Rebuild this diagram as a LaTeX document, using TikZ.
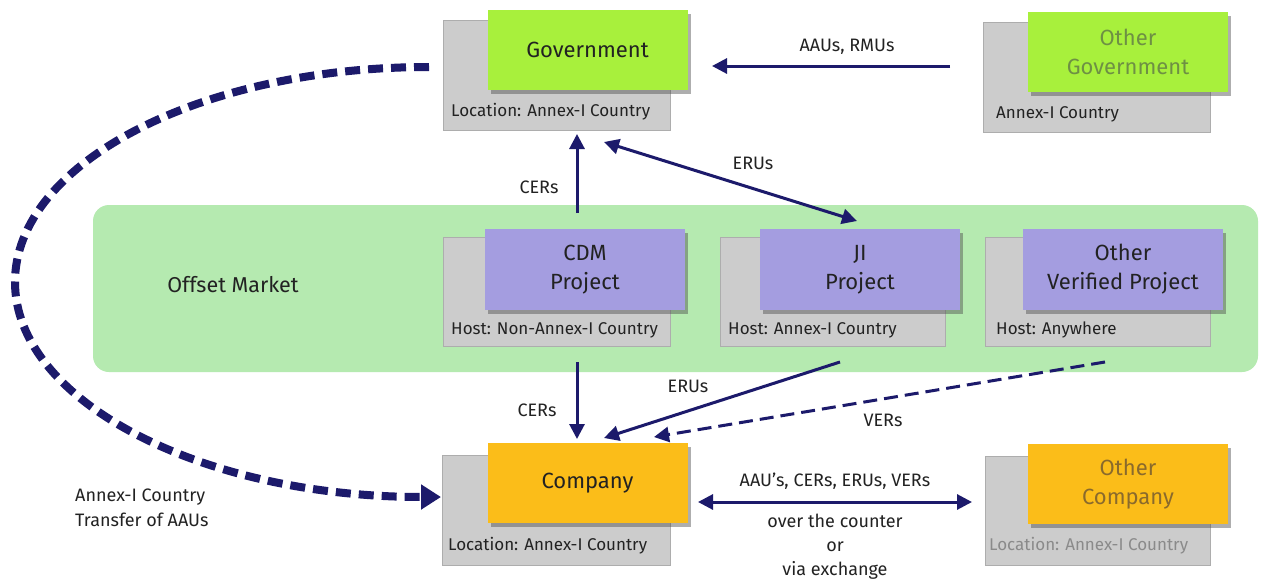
\documentclass[tikz,border=0pt]{standalone}
\usepackage{fontspec}
\setmainfont{Fira Sans}
\usetikzlibrary{arrows.meta,shadows}
\definecolor{navy}{HTML}{1C1A6B}
\definecolor{govgreen}{HTML}{A8F03C}
\definecolor{coorange}{HTML}{FBBD19}
\definecolor{projpurple}{HTML}{A49DE0}
\definecolor{boxgray}{HTML}{CCCCCC}
\definecolor{boxedge}{HTML}{ADADAD}
\definecolor{offsetbg}{HTML}{B5EAB0}
\definecolor{txt}{HTML}{222222}
\definecolor{dimgreen}{HTML}{6E9044}
\definecolor{dimbrown}{HTML}{8A6A2C}
\definecolor{dimgray}{HTML}{8A8A8A}
\begin{document}
\begin{tikzpicture}[x=1pt,y=-1pt,
  graybox/.style={draw=boxedge,fill=boxgray,line width=0.8pt,minimum width=227pt,minimum height=110pt,inner sep=0pt},
  topbox/.style={minimum width=200pt,minimum height=80pt,inner sep=0pt,align=center,text=txt,
    font=\fontsize{22}{29}\selectfont,
    drop shadow={shadow xshift=3pt,shadow yshift=-4pt,fill=black!70,opacity=0.45}},
  govbox/.style={topbox,fill=govgreen},
  cobox/.style={topbox,fill=coorange},
  projbox/.style={topbox,fill=projpurple,minimum height=81pt},
  boxlabel/.style={anchor=west,inner sep=0pt,text=txt,font=\fontsize{17}{20}\selectfont},
  elabel/.style={inner sep=0pt,text=txt,font=\fontsize{18}{21}\selectfont,align=center},
  arr/.style={draw=navy,line width=3pt,-{Triangle[length=15pt,width=15pt]}},
  darr/.style={draw=navy,line width=3pt,{Triangle[length=15pt,width=15pt]}-{Triangle[length=15pt,width=15pt]}},
  dasharr/.style={arr,dash pattern=on 14pt off 7pt},
  bigdash/.style={draw=navy,line width=8pt,dash pattern=on 15pt off 8pt,-{Triangle[length=20pt,width=24pt]}}
]
\useasboundingbox (0,0) rectangle (1264,581);
\fill[white] (0,0) rectangle (1264,581);

% offset market band
\node[fill=offsetbg,rounded corners=16pt,minimum width=1165pt,minimum height=167pt,inner sep=0pt] (offset) at (675.5,288.5) {};
\node[inner sep=0pt,text=txt,font=\fontsize{21.5}{24}\selectfont] (offsetlbl) at (233,285) {Offset Market};

% Government
\node[graybox] (govGray) at (556.5,75) {};
\node[boxlabel] (govLbl) at (451,112) {Location: Annex-I Country};
\node[govbox] (gov) at (587.5,50) {Government};

% Other Government
\node[graybox] (ogGray) at (1096.5,77) {};
\node[boxlabel] (ogLbl) at (996,114) {Annex-I Country};
\node[govbox,text=dimgreen] (og) at (1128,52) {Other\\Government};

% Projects
\node[graybox,minimum height=109pt] (cdmGray) at (556.5,291.5) {};
\node[boxlabel] (cdmLbl) at (451,330) {Host: Non-Annex-I Country};
\node[projbox] (cdm) at (585,269.5) {CDM\\Project};

\node[graybox,minimum width=225pt,minimum height=109pt] (jiGray) at (832.5,291.5) {};
\node[boxlabel] (jiLbl) at (728,330) {Host: Annex-I Country};
\node[projbox] (ji) at (860,269.5) {JI\\Project};

\node[graybox,minimum width=225pt,minimum height=109pt] (ovGray) at (1097.5,291.5) {};
\node[boxlabel] (ovLbl) at (996,330) {Host: Anywhere};
\node[projbox] (ov) at (1123,269.5) {Other\\Verified Project};

% Company
\node[graybox,minimum width=228pt] (coGray) at (556,510) {};
\node[boxlabel] (coLbl) at (448,546) {Location: Annex-I Country};
\node[cobox] (co) at (587.5,483) {Company};

% Other Company
\node[graybox,minimum width=225pt,minimum height=109pt] (ocGray) at (1097.5,510.5) {};
\node[boxlabel,text=dimgray] (ocLbl) at (989,546) {Location: Annex-I Country};
\node[cobox,text=dimbrown] (oc) at (1128,484) {Other\\Company};

% connector end points
\coordinate (a1s) at (950,66);   \coordinate (a1e) at (712,66);
\coordinate (a2s) at (577,213);  \coordinate (a2e) at (577,134);
\coordinate (a3s) at (604,142);  \coordinate (a3e) at (857,221);
\coordinate (a4s) at (577,362);  \coordinate (a4e) at (577,439);
\coordinate (a5s) at (840,362);  \coordinate (a5e) at (604,438);
\coordinate (a6s) at (1105,362); \coordinate (a6e) at (654,437);
\coordinate (a7s) at (698,502);  \coordinate (a7e) at (972,502);
\coordinate (a8s) at (429,67);   \coordinate (a8m) at (15,282); \coordinate (a8e) at (441,497);

% connectors
\draw[arr] (a1s) -- (a1e);
\node[elabel] (l1) at (847,47) {AAUs, RMUs};

\draw[arr] (a2s) -- (a2e);
\node[elabel] (l2) at (539,187) {CERs};

\draw[darr] (a3s) -- (a3e);
\node[elabel] (l3) at (753,163) {ERUs};

\draw[arr] (a4s) -- (a4e);
\node[elabel] (l4) at (537,410) {CERs};

\draw[arr] (a5s) -- (a5e);
\node[elabel] (l5) at (688,386) {ERUs};

\draw[dasharr] (a6s) -- (a6e);
\node[elabel] (l6) at (883,420) {VERs};

\draw[darr] (a7s) -- (a7e);
\node[elabel] (l7a) at (835,481) {AAU's, CERs, ERUs, VERs};
\node[elabel,font=\fontsize{18}{24}\selectfont] (l7b) at (835,547) {over the counter\\or\\via exchange};

\draw[bigdash] (a8s) .. controls (201,67) and (15,163) .. (a8m)
  .. controls (15,401) and (201,497) .. (a8e);
\node[elabel,align=left,anchor=west,font=\fontsize{18}{24.5}\selectfont] (l8) at (75,508) {Annex-I Country\\Transfer of AAUs};

\end{tikzpicture}
\end{document}
